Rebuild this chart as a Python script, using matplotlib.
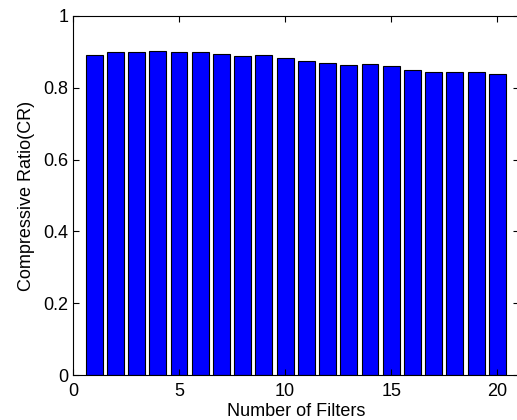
import matplotlib
matplotlib.use('Agg')
import matplotlib.pyplot as plt

filters = list(range(1, 21))
cr_values = [0.892, 0.899, 0.899, 0.903, 0.899, 0.899, 0.894, 0.889, 0.891, 0.884,
             0.875, 0.870, 0.864, 0.866, 0.861, 0.850, 0.844, 0.844, 0.844, 0.837]
x_ticks = [0, 5, 10, 15, 20]
y_ticks = [0, 0.2, 0.4, 0.6, 0.8, 1]
y_tick_labels = ['0', '0.2', '0.4', '0.6', '0.8', '1']

plt.rcParams['font.family'] = ['Liberation Sans', 'DejaVu Sans']

fig = plt.figure(figsize=(5.17, 4.2), dpi=100)
ax = fig.add_axes([0.141, 0.107, 0.862, 0.855])

ax.bar(filters, cr_values, width=0.8, color='#0000ff', edgecolor='black', linewidth=0.8)

ax.set_xlim(0, 21)
ax.set_ylim(0, 1)
ax.set_xticks(x_ticks)
ax.set_yticks(y_ticks)
ax.set_yticklabels(y_tick_labels)
ax.tick_params(direction='in', length=4, width=0.8, top=True, right=True, labelsize=13)
ax.tick_params(axis='x', pad=6)
ax.tick_params(axis='y', pad=3)
for s in ax.spines.values():
    s.set_linewidth(0.8)

ax.set_xlabel('Number of Filters', fontsize=13, labelpad=2)
ax.set_ylabel('Compressive Ratio(CR)', fontsize=13, labelpad=6)

fig.savefig('out.png', dpi=100)
